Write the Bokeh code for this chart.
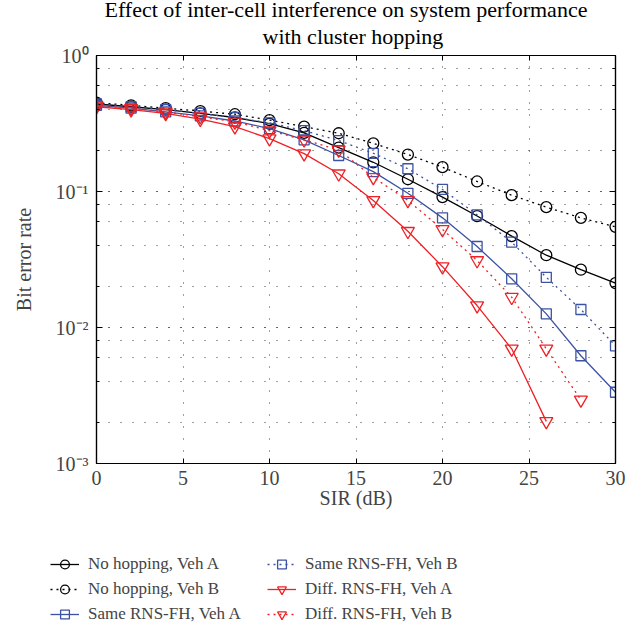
from bokeh.plotting import figure
from bokeh.layouts import column, row
from bokeh.models import (LogAxis, LinearAxis, Legend, LegendItem, Title,
                          FixedTicker, LogTicker, CustomJSTickFormatter, Range1d)
from bokeh.embed import file_html
from bokeh.resources import INLINE

# ---------------- data ----------------
sir = [0, 2, 4, 6, 8, 10, 12, 14, 16, 18, 20, 22, 24, 26, 28, 30]
nohop_a = [0.44, 0.42, 0.40, 0.375, 0.35, 0.315, 0.27, 0.21, 0.164, 0.123,
           0.091, 0.066, 0.047, 0.034, 0.0266, 0.0212]
nohop_b = [0.45, 0.43, 0.41, 0.39, 0.37, 0.335, 0.30, 0.268, 0.226, 0.187,
           0.151, 0.1185, 0.094, 0.0767, 0.064, 0.055]
same_a = [0.43, 0.41, 0.385, 0.36, 0.33, 0.29, 0.24, 0.184, 0.140, 0.097,
          0.064, 0.0394, 0.0228, 0.0126, 0.0062, 0.00334]
same_b = [0.44, 0.42, 0.40, 0.375, 0.35, 0.32, 0.28, 0.237, 0.191, 0.147,
          0.1035, 0.0674, 0.0424, 0.0234, 0.01356, 0.00733]
sir_diff_a = [0, 2, 4, 6, 8, 10, 12, 14, 16, 18, 20, 22, 24, 26]
diff_a = [0.42, 0.40, 0.375, 0.34, 0.30, 0.245, 0.19, 0.135, 0.086, 0.051,
          0.028, 0.0145, 0.00697, 0.00204]
sir_diff_b = [0, 2, 4, 6, 8, 10, 12, 14, 16, 18, 20, 22, 24, 26, 28]
diff_b = [0.43, 0.41, 0.385, 0.355, 0.325, 0.28, 0.24, 0.202, 0.127, 0.086,
          0.0526, 0.0311, 0.0167, 0.00697, 0.00294]

x_ticks = [0, 5, 10, 15, 20, 25, 30]
title_lines = ["Effect of inter-cell interference on system performance",
               "with cluster hopping"]
x_label = "SIR (dB)"
y_label = "Bit error rate"
legend_labels = ["No hopping, Veh A", "No hopping, Veh B", "Same RNS-FH, Veh A",
                 "Same RNS-FH, Veh B", "Diff. RNS-FH, Veh A", "Diff. RNS-FH, Veh B"]

FONT = "Liberation Serif"
BLACK = "#000000"
BLUE = "#3c52a3"
RED = "#ee2024"

p = figure(width=639, height=525, x_range=Range1d(0, 30), y_range=Range1d(1e-3, 1),
           y_axis_type="log", output_backend="svg", toolbar_location=None,
           title=None, min_border_left=96, min_border_right=24,
           min_border_top=55, min_border_bottom=62)
p.background_fill_color = "white"
p.border_fill_color = "white"
p.outline_line_color = "black"
p.outline_line_width = 1.2

# ---------------- axes ----------------
xa = p.xaxis[0]
xa.ticker = FixedTicker(ticks=x_ticks)
xa.axis_label = x_label
xa.axis_label_text_font = FONT
xa.axis_label_text_font_size = "20px"
xa.axis_label_text_font_style = "normal"
xa.axis_label_standoff = -1
xa.major_label_text_font = FONT
xa.major_label_text_font_size = "20px"
xa.major_label_standoff = 7
xa.major_tick_in = 5
xa.major_tick_out = 0
xa.minor_tick_line_color = None
xa.axis_line_color = "black"
xa.axis_line_width = 1.2

ya = p.yaxis[0]
ya.ticker = LogTicker()
ya.formatter = CustomJSTickFormatter(code="""
const e = Math.round(Math.log10(tick));
const sup = {'0':'\u2070','1':'\u00b9','2':'\u00b2','3':'\u00b3','-':'\u207b'};
return '10' + String(e).split('').map(c => sup[c]).join('');
""")
ya.axis_label = y_label
ya.axis_label_text_font = FONT
ya.axis_label_text_font_size = "20px"
ya.axis_label_text_font_style = "normal"
ya.axis_label_standoff = 18
ya.major_label_text_font = FONT
ya.major_label_text_font_size = "20px"
ya.major_label_standoff = 8
ya.major_tick_in = 6
ya.major_tick_out = 0
ya.minor_tick_in = 3
ya.minor_tick_out = 0
ya.axis_line_color = "black"
ya.axis_line_width = 1.2

top = LinearAxis(ticker=FixedTicker(ticks=x_ticks),
                 formatter=CustomJSTickFormatter(code="return '';"),
                 major_label_standoff=0, major_label_text_font_size="1px",
                 major_tick_in=5, major_tick_out=0, minor_tick_line_color=None,
                 axis_line_color="black", axis_line_width=1.2)
p.add_layout(top, "above")
right = LogAxis(ticker=LogTicker(), formatter=CustomJSTickFormatter(code="return '';"),
                major_label_standoff=0, major_label_text_font_size="1px",
                major_tick_in=6, major_tick_out=0, minor_tick_in=3, minor_tick_out=0,
                axis_line_color="black", axis_line_width=1.2)
p.add_layout(right, "right")

# ---------------- grid ----------------
p.xgrid.ticker = FixedTicker(ticks=x_ticks)
p.xgrid.grid_line_color = "black"
p.xgrid.grid_line_alpha = 0.75
p.xgrid.grid_line_dash = "1 11"
p.ygrid.grid_line_color = "black"
p.ygrid.grid_line_alpha = 0.75
p.ygrid.grid_line_dash = "1 11"
p.ygrid.minor_grid_line_color = "black"
p.ygrid.minor_grid_line_alpha = 0.75
p.ygrid.minor_grid_line_dash = "1 11"

# ---------------- series ----------------
styles = [(BLACK, "solid", "circle", 11), (BLACK, "2 4", "circle", 11),
          (BLUE, "solid", "square", 10), (BLUE, "2 4", "square", 10),
          (RED, "solid", "inverted_triangle", 13), (RED, "2 4", "inverted_triangle", 13)]
data = [(sir, nohop_a), (sir, nohop_b), (sir, same_a), (sir, same_b),
        (sir_diff_a, diff_a), (sir_diff_b, diff_b)]

def series(fig, xs, ys, color, dash, marker, size):
    ln = fig.line(xs, ys, line_color=color, line_width=1.3, line_dash=dash)
    sc = fig.scatter(xs, ys, marker=marker, size=size, line_color=color,
                     fill_color=None, line_width=1.3)
    return [ln, sc]

for (xs, ys), (c, d, m, s) in zip(data, styles):
    series(p, xs, ys, c, d, m, s)

# ---------------- title ----------------
t2 = Title(text=title_lines[1], align="left", text_font=FONT, text_font_size="22px",
           text_font_style="normal", text_color="black", standoff=14, offset=166)
t1 = Title(text=title_lines[0], align="left", text_font=FONT, text_font_size="22px",
           text_font_style="normal", text_color="black", standoff=-14, offset=8)
p.add_layout(t2, "above")
p.add_layout(t1, "above")

# ---------------- legend (separate strip below the plot) ----------------
# legend proxies: same series data, but this strip's ranges keep them out of view
lg = figure(width=639, height=105, x_range=Range1d(100, 101), y_range=Range1d(100, 101),
            output_backend="svg", toolbar_location=None, title=None,
            x_axis_location=None, y_axis_location=None,
            min_border_left=0, min_border_right=0, min_border_top=0, min_border_bottom=0)
lg.grid.visible = False
lg.outline_line_color = None
lg.background_fill_color = "white"
lg.border_fill_color = "white"
lg_rs = [series(lg, xs, ys, c, d, m, s) for (xs, ys), (c, d, m, s) in zip(data, styles)]

def make_legend(idx, loc):
    return Legend(items=[LegendItem(label=legend_labels[i], renderers=lg_rs[i]) for i in idx],
                  location=loc, orientation="vertical",
                  padding=0, margin=0, border_line_color=None,
                  background_fill_alpha=0, glyph_width=29, glyph_height=22,
                  label_height=22, spacing=3, label_standoff=9,
                  label_text_font=FONT, label_text_font_size="17px")

lg.add_layout(make_legend([0, 1, 2], (50, 5)))
lg.add_layout(make_legend([3, 4, 5], (267, 5)))

page = column(p, row(lg), spacing=0)
open("out.html", "w").write(file_html(page, INLINE))
